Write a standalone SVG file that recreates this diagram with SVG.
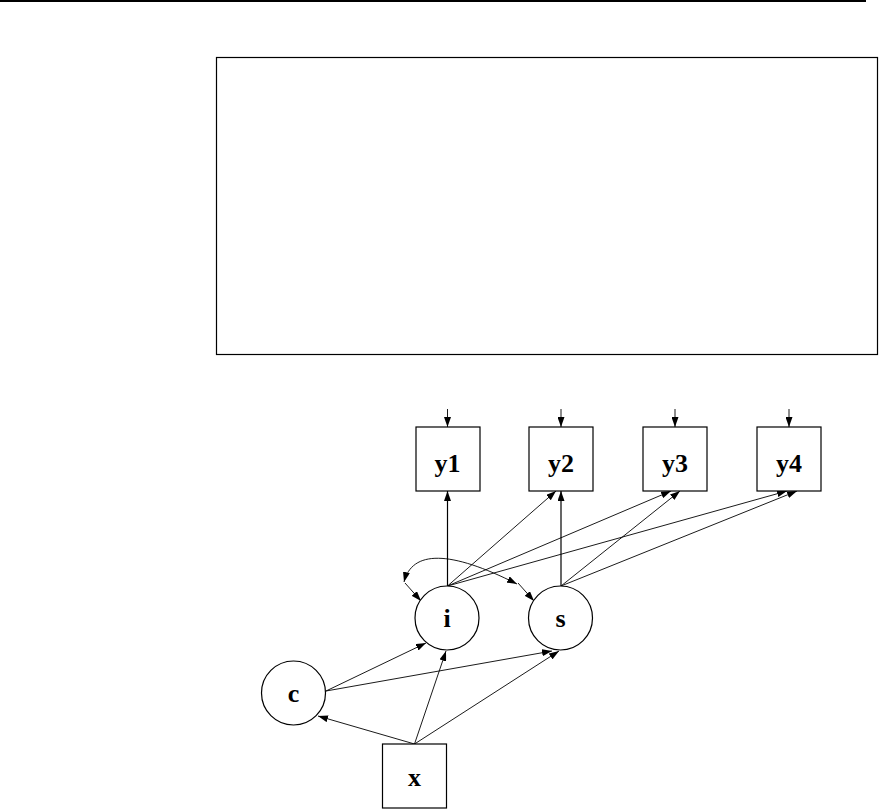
<svg xmlns="http://www.w3.org/2000/svg" width="879" height="809" viewBox="0 0 879 809">
<style>
.node{fill:#fff;stroke:#000;stroke-width:1.2}
.lbl{font-family:"Liberation Serif","Times New Roman",serif;font-weight:bold;font-size:26px;text-anchor:middle;fill:#000}
.ln{fill:none;stroke:#000;stroke-width:0.9;marker-end:url(#ah)}
.vl{fill:none;stroke:#000;stroke-width:1.2;marker-end:url(#ah)}
</style>
<defs>
<marker id="ah" markerUnits="userSpaceOnUse" markerWidth="10" markerHeight="7" refX="10" refY="3.5" orient="auto-start-reverse">
<path d="M0,0 L10,3.5 L0,7 z" fill="#000"/>
</marker>
</defs>
<rect width="879" height="809" fill="#fff"/>
<line x1="0" y1="1" x2="866" y2="1" stroke="#000" stroke-width="2"/>
<rect x="216.5" y="57.5" width="661" height="297" fill="none" stroke="#000" stroke-width="1.2"/>
<g id="connectors">
<line class="ln" x1="447.5" y1="409" x2="447.5" y2="427"/>
<line class="ln" x1="561" y1="409" x2="561" y2="427"/>
<line class="ln" x1="675" y1="409" x2="675" y2="427"/>
<line class="ln" x1="789" y1="409" x2="789" y2="427"/>
<line class="vl" x1="447.5" y1="586" x2="447.5" y2="491"/>
<line class="vl" x1="561" y1="586" x2="561" y2="491"/>
<line class="ln" x1="447.5" y1="586" x2="556" y2="491"/>
<line class="ln" x1="447.5" y1="586" x2="671" y2="491"/>
<line class="ln" x1="447.5" y1="586" x2="787" y2="491"/>
<line class="ln" x1="561" y1="586" x2="680" y2="491"/>
<line class="ln" x1="561" y1="586" x2="797" y2="491"/>
<line class="ln" x1="405" y1="583" x2="421" y2="601"/>
<line class="ln" x1="518" y1="583" x2="534" y2="601"/>
<path class="ln" d="M404,582 C412,550 450,550 517,584" style="marker-start:url(#ah)"/>
<line class="ln" x1="326" y1="691" x2="426" y2="643"/>
<line class="ln" x1="326" y1="691" x2="552" y2="651"/>
<line class="ln" x1="414.5" y1="744" x2="318" y2="716"/>
<line class="ln" x1="414.5" y1="744" x2="446" y2="651"/>
<line class="ln" x1="414.5" y1="744" x2="559" y2="651"/>
</g>
<g id="y1"><rect class="node" x="416" y="427" width="64" height="64"/><text class="lbl" x="447.5" y="472">y1</text></g>
<g id="y2"><rect class="node" x="529" y="427" width="64" height="64"/><text class="lbl" x="561" y="472">y2</text></g>
<g id="y3"><rect class="node" x="643" y="427" width="64" height="64"/><text class="lbl" x="675" y="472">y3</text></g>
<g id="y4"><rect class="node" x="757" y="427" width="64" height="64"/><text class="lbl" x="789" y="472">y4</text></g>
<g id="i"><circle class="node" cx="447" cy="618" r="32"/><text class="lbl" x="447" y="627">i</text></g>
<g id="s"><circle class="node" cx="560.5" cy="618" r="32"/><text class="lbl" x="560.5" y="627">s</text></g>
<g id="c"><circle class="node" cx="293.5" cy="693" r="32"/><text class="lbl" x="293.5" y="702">c</text></g>
<g id="x"><rect class="node" x="382.5" y="744" width="64" height="64"/><text class="lbl" x="414.5" y="786">x</text></g>
</svg>
